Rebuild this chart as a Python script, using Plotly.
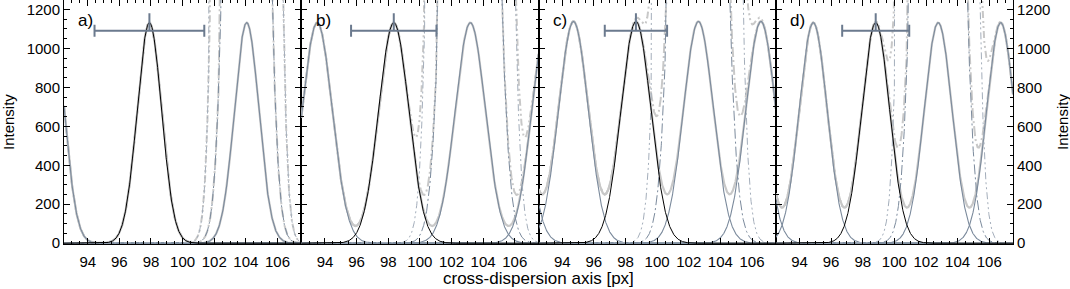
import numpy as np
import plotly.graph_objects as go

# ---------------- data ----------------
panel_labels = ["a)", "b)", "c)", "d)"]
target_center = [97.9, 98.35, 98.66, 98.82]      # black profile centre [px]
fibre_spacing = [6.15, 4.84, 3.95, 3.95]         # distance to neighbouring profiles [px]
profile_sigma = [0.77, 0.95, 0.94, 0.88]         # Gaussian width [px]
peak_intensity = [1132, 1132, 1138, 1132]        # peak intensity
neighbour_index = [-2, -1, 1, 2]                 # neighbouring profiles shown
bright_factors = [10, 100]                       # brighter right-hand neighbour
window_half_width = [3.47, 2.70, 1.97, 2.12]     # extraction window half width [px]
window_level = 1090
window_marker_top = 1180

x_range = [92.5, 107.5]
y_range = [-4, 1248]
x_ticks = [94, 96, 98, 100, 102, 104, 106]
y_ticks = [0, 200, 400, 600, 800, 1000, 1200]

# ---------------- styling ----------------
FONT = "Liberation Sans, Arial, Helvetica, sans-serif"
C_BLACK = "#000000"
C_GREY = "#7b8a9c"
C_GREY100 = "#a3adba"
C_SUM = "#c8c8c8"
C_BAR = "#6b7a8e"
DASH10 = "10px,3px,2px,3px"
DASH100 = "7px,3px,2px,3px,2px,3px"

x = np.linspace(x_range[0], x_range[1], 1501)


def gauss(c, a, s):
    return a * np.exp(-0.5 * ((x - c) / s) ** 2)


fig = go.Figure()
W = 1 / 4
for i in range(4):
    xa = "x" if i == 0 else f"x{i+1}"
    ya = "y" if i == 0 else f"y{i+1}"
    c0, sp, sg, A = target_center[i], fibre_spacing[i], profile_sigma[i], peak_intensity[i]
    black = gauss(c0, A, sg)
    greys = [gauss(c0 + k * sp, A, sg) for k in neighbour_index]
    total = black + sum(greys)
    right = gauss(c0 + sp, A, sg)

    def add(y, color, width, dash="solid"):
        fig.add_trace(go.Scatter(x=x, y=y, mode="lines", xaxis=xa, yaxis=ya,
                                 line=dict(color=color, width=width, dash=dash),
                                 hoverinfo="skip", showlegend=False))

    # summed profiles (light, thick)
    add(total, C_SUM, 2.2)
    add(total + (bright_factors[0] - 1) * right, C_SUM, 2.0, DASH10)
    add(total + (bright_factors[1] - 1) * right, C_SUM, 2.0, DASH100)
    # neighbouring profiles
    for g in greys:
        add(g, C_GREY, 1.1)
    add(bright_factors[0] * right, C_GREY, 1.0, DASH10)
    add(bright_factors[1] * right, C_GREY100, 1.0, DASH100)
    # target profile
    add(black, C_BLACK, 1.0)
    # extraction window
    fig.add_trace(go.Scatter(
        x=[c0], y=[window_level], mode="markers", xaxis=xa, yaxis=ya,
        marker=dict(size=1, color="rgba(0,0,0,0)"),
        error_x=dict(type="constant", value=window_half_width[i], color=C_BAR,
                     thickness=2, width=6),
        error_y=dict(type="data", symmetric=False, array=[window_marker_top - window_level],
                     arrayminus=[0], color=C_BAR, thickness=2, width=0),
        hoverinfo="skip", showlegend=False))

    axis_common = dict(showline=True, linecolor="black", linewidth=1, mirror="allticks",
                       ticks="inside", tickcolor="black", ticklen=6, tickwidth=1,
                       showgrid=False, zeroline=False,
                       tickfont=dict(family=FONT, size=15, color="black"))
    fig.update_layout(**{
        ("xaxis" if i == 0 else f"xaxis{i+1}"): dict(
            domain=[i * W, (i + 1) * W], range=x_range, anchor=ya,
            tickvals=x_ticks, ticktext=[str(t) for t in x_ticks],
            ticklabelstandoff=4,
            minor=dict(dtick=0.5, tick0=92.5, ticks="inside", ticklen=3, tickcolor="black"),
            **axis_common),
        ("yaxis" if i == 0 else f"yaxis{i+1}"): dict(
            domain=[0, 1], range=y_range, anchor=xa,
            tickvals=y_ticks, ticktext=[str(t) for t in y_ticks],
            minor=dict(dtick=50, tick0=0, ticks="inside", ticklen=3, tickcolor="black"),
            side="right" if i == 3 else "left",
            showticklabels=(i in (0, 3)),
            **axis_common),
    })
    fig.add_annotation(text=panel_labels[i], xref=f"{xa} domain", yref=f"{ya} domain",
                       x=0.052, y=0.965, xanchor="left", yanchor="top", showarrow=False,
                       font=dict(family=FONT, size=17, color="black"))

# axis titles
fig.add_annotation(text="cross-dispersion axis [px]", xref="paper", yref="paper",
                   x=0.5, y=-0.14, xanchor="center", yanchor="middle", showarrow=False,
                   font=dict(family=FONT, size=17, color="black"))
for xp in (-0.059, 1.0516):
    fig.add_annotation(text="Intensity", xref="paper", yref="paper", x=xp, y=0.5,
                       xanchor="center", yanchor="middle", textangle=-90, showarrow=False,
                       font=dict(family=FONT, size=15, color="black"))

fig.update_layout(width=1070, height=289, margin=dict(l=64, r=57, t=0, b=45),
                  paper_bgcolor="white", plot_bgcolor="white",
                  font=dict(family=FONT, color="black"))
fig.write_html("out.html", config={"displayModeBar": False},
               post_script="document.body.style.margin='0';")
